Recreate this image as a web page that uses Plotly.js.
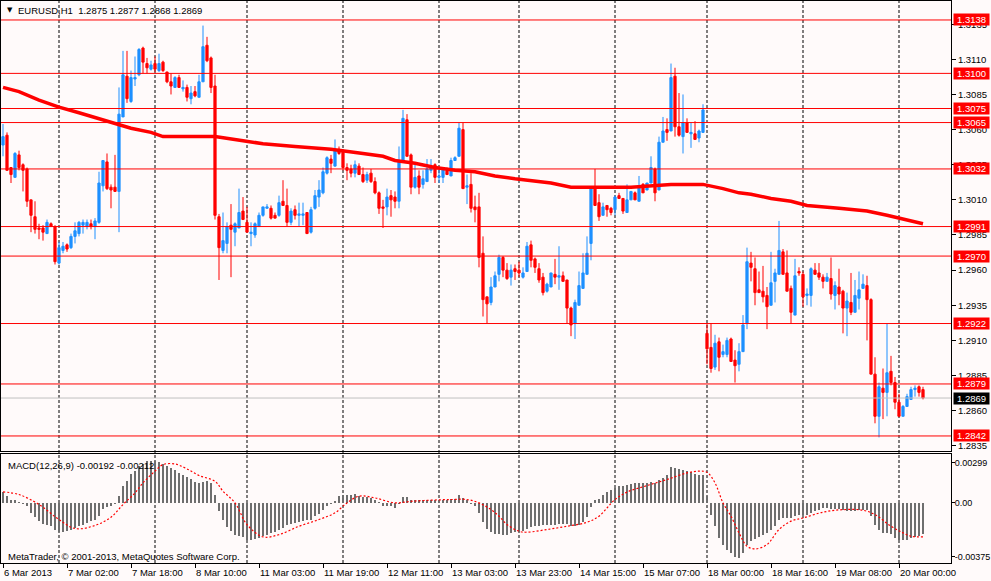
<!DOCTYPE html>
<html><head><meta charset="utf-8">
<script src="https://cdn.plot.ly/plotly-3.0.1.min.js"></script>
<style>html,body{margin:0;padding:0;background:#FFFAFA;}#chart{width:991px;height:581px;}</style>
</head><body><div id="chart"></div>
<script>
// ---- DATA (EURUSD H1, bars indexed 0..230) ----
const openP = [1.3049,1.3056,1.3033,1.3026,1.3042,1.3035,1.3032,1.3010,1.2998,1.2990,
1.2990,1.2986,1.2993,1.2991,1.2965,1.2974,1.2978,1.2976,1.2984,1.2986,
1.2992,1.2991,1.2993,1.2991,1.2994,1.3020,1.3037,1.3019,1.3019,1.3016,
1.3069,1.3098,1.3080,1.3096,1.3099,1.3118,1.3107,1.3103,1.3107,1.3102,
1.3108,1.3101,1.3094,1.3090,1.3097,1.3089,1.3090,1.3082,1.3087,1.3083,
1.3094,1.3120,1.3111,1.3091,1.2998,1.2974,1.2979,1.2992,1.2987,1.2990,
1.3002,1.2994,1.2986,1.2985,1.2991,1.2999,1.3004,1.3004,1.2999,1.2999,
1.3009,1.3006,1.2994,1.3003,1.2999,1.2999,1.3001,1.2987,1.3004,1.3012,
1.3015,1.3029,1.3039,1.3034,1.3046,1.3045,1.3033,1.3032,1.3029,1.3034,
1.3028,1.3024,1.3029,1.3023,1.3015,1.3005,1.3005,1.3013,1.3012,1.3009,
1.3037,1.3067,1.3042,1.3019,1.3027,1.3021,1.3023,1.3031,1.3035,1.3026,
1.3026,1.3031,1.3027,1.3038,1.3041,1.3060,1.3019,1.3021,1.3005,1.3005,
1.2972,1.2941,1.2937,1.2948,1.2957,1.2969,1.2960,1.2955,1.2961,1.2960,
1.2955,1.2959,1.2978,1.2968,1.2961,1.2955,1.2945,1.2948,1.2957,1.2955,
1.2956,1.2953,1.2933,1.2922,1.2935,1.2947,1.2957,1.2979,1.3019,1.3008,
1.2999,1.3006,1.3004,1.3003,1.3013,1.3011,1.3001,1.3010,1.3015,1.3009,
1.3021,1.3017,1.3022,1.3032,1.3017,1.3051,1.3060,1.3059,1.3098,1.3062,
1.3055,1.3065,1.3057,1.3057,1.3054,1.3058,1.2915,1.2905,1.2891,1.2909,
1.2900,1.2900,1.2911,1.2896,1.2893,1.2902,1.2922,1.2965,1.2961,1.2946,
1.2945,1.2942,1.2935,1.2952,1.2957,1.2973,1.2958,1.2947,1.2928,1.2959,
1.2957,1.2942,1.2942,1.2960,1.2958,1.2955,1.2952,1.2954,1.2942,1.2948,
1.2945,1.2933,1.2937,1.2930,1.2940,1.2947,1.2949,1.2939,1.2886,1.2856,
1.2876,1.2873,1.2888,1.2880,1.2866,1.2856,1.2863,1.2868,1.2875,1.2877,
1.2875];
const highP = [1.3064,1.3058,1.3033,1.3044,1.3045,1.3036,1.3033,1.3010,1.3009,1.2993,
1.2992,1.2996,1.2994,1.2992,1.2980,1.2980,1.2979,1.2986,1.2994,1.2995,
1.2996,1.2996,1.2996,1.2997,1.3030,1.3038,1.3043,1.3021,1.3042,1.3090,
1.3116,1.3116,1.3102,1.3112,1.3118,1.3119,1.3111,1.3109,1.3112,1.3114,
1.3109,1.3101,1.3100,1.3098,1.3099,1.3095,1.3092,1.3091,1.3091,1.3099,
1.3134,1.3126,1.3112,1.3099,1.3000,1.3001,1.2994,1.3007,1.2994,1.3018,
1.3012,1.3005,1.2994,1.2994,1.3001,1.3005,1.3007,1.3006,1.3001,1.3013,
1.3024,1.3018,1.3004,1.3006,1.3008,1.3008,1.3001,1.3005,1.3017,1.3024,
1.3033,1.3041,1.3042,1.3053,1.3048,1.3046,1.3036,1.3035,1.3038,1.3036,
1.3033,1.3030,1.3032,1.3026,1.3016,1.3010,1.3018,1.3017,1.3016,1.3048,
1.3074,1.3071,1.3043,1.3035,1.3031,1.3031,1.3039,1.3039,1.3036,1.3033,
1.3033,1.3033,1.3040,1.3041,1.3065,1.3065,1.3028,1.3029,1.3013,1.3015,
1.2984,1.2941,1.2955,1.2959,1.2971,1.2970,1.2965,1.2964,1.2964,1.2966,
1.2962,1.2980,1.2981,1.2969,1.2965,1.2958,1.2951,1.2958,1.2968,1.2977,
1.2959,1.2953,1.2934,1.2939,1.2959,1.2972,1.2984,1.3019,1.3032,1.3014,
1.3008,1.3006,1.3005,1.3013,1.3015,1.3011,1.3021,1.3016,1.3016,1.3027,
1.3022,1.3022,1.3041,1.3033,1.3055,1.3069,1.3068,1.3107,1.3104,1.3086,
1.3085,1.3068,1.3065,1.3066,1.3060,1.3078,1.2922,1.2922,1.2914,1.2912,
1.2907,1.2912,1.2912,1.2903,1.2908,1.2928,1.2976,1.2973,1.2969,1.2959,
1.2963,1.2948,1.2973,1.2961,1.2995,1.2975,1.2974,1.2949,1.2968,1.2962,
1.2959,1.2947,1.2962,1.2965,1.2965,1.2957,1.2958,1.2969,1.2952,1.2961,
1.2946,1.2944,1.2958,1.2953,1.2959,1.2957,1.2956,1.2940,1.2898,1.2880,
1.2890,1.2922,1.2899,1.2884,1.2872,1.2864,1.2872,1.2877,1.2878,1.2878,
1.2877];
const lowP = [1.3041,1.3031,1.3022,1.3026,1.3031,1.3016,1.3005,1.2987,1.2986,1.2982,
1.2981,1.2986,1.2991,1.2964,1.2964,1.2972,1.2973,1.2975,1.2979,1.2984,
1.2986,1.2989,1.2989,1.2982,1.2993,1.3016,1.3017,1.3004,1.3016,1.2987,
1.3069,1.3079,1.3079,1.3091,1.3098,1.3100,1.3100,1.3102,1.3101,1.3101,
1.3101,1.3093,1.3085,1.3090,1.3090,1.3087,1.3080,1.3078,1.3083,1.3083,
1.3094,1.3108,1.3086,1.2996,1.2953,1.2972,1.2972,1.2955,1.2977,1.2990,
1.2996,1.2987,1.2977,1.2983,1.2991,1.2998,1.3004,1.2996,1.2997,1.2998,
1.3006,1.2991,1.2992,1.2996,1.2991,1.2992,1.2986,1.2986,1.3003,1.3005,
1.3014,1.3028,1.3029,1.3034,1.3042,1.3031,1.3024,1.3026,1.3026,1.3028,
1.3022,1.3022,1.3022,1.3014,1.3000,1.2990,1.2999,1.2998,1.3004,1.3004,
1.3037,1.3041,1.3014,1.3018,1.3014,1.3018,1.3023,1.3029,1.3022,1.3022,
1.3022,1.3028,1.3027,1.3038,1.3041,1.3018,1.3007,1.3001,1.2994,1.2962,
1.2927,1.2922,1.2935,1.2948,1.2952,1.2955,1.2953,1.2949,1.2953,1.2955,
1.2954,1.2959,1.2962,1.2958,1.2951,1.2942,1.2944,1.2948,1.2950,1.2946,
1.2952,1.2922,1.2913,1.2911,1.2935,1.2947,1.2957,1.2967,1.3006,1.2995,
1.2999,1.2998,1.2999,1.2999,1.3011,1.3000,1.3001,1.3010,1.3010,1.3009,
1.3015,1.3017,1.3022,1.3009,1.3017,1.3051,1.3052,1.3059,1.3055,1.3055,
1.3043,1.3058,1.3047,1.3053,1.3051,1.3058,1.2893,1.2887,1.2889,1.2888,
1.2898,1.2898,1.2895,1.2880,1.2888,1.2902,1.2918,1.2952,1.2935,1.2944,
1.2937,1.2918,1.2935,1.2937,1.2957,1.2957,1.2945,1.2922,1.2928,1.2956,
1.2934,1.2935,1.2934,1.2957,1.2953,1.2947,1.2952,1.2939,1.2932,1.2935,
1.2915,1.2913,1.2928,1.2930,1.2932,1.2947,1.2910,1.2886,1.2851,1.2841,
1.2854,1.2856,1.2878,1.2861,1.2856,1.2856,1.2863,1.2868,1.2870,1.2870,
1.2868];
const closeP = [1.3055,1.3031,1.3028,1.3043,1.3033,1.3031,1.3009,1.2999,1.2989,1.2989,
1.2987,1.2994,1.2991,1.2966,1.2976,1.2977,1.2975,1.2984,1.2988,1.2994,
1.2994,1.2994,1.2991,1.2995,1.3022,1.3038,1.3018,1.3017,1.3016,1.3071,
1.3099,1.3082,1.3097,1.3097,1.3117,1.3108,1.3104,1.3106,1.3103,1.3107,
1.3102,1.3094,1.3091,1.3097,1.3090,1.3090,1.3083,1.3086,1.3084,1.3094,
1.3119,1.3109,1.3090,1.2999,1.2976,1.2981,1.2991,1.2989,1.2993,1.3001,
1.2996,1.2987,1.2987,1.2993,1.2999,1.3005,1.3005,1.2997,1.2997,1.3008,
1.3006,1.2994,1.3002,1.2999,1.3000,1.3000,1.2986,1.3003,1.3013,1.3017,
1.3030,1.3040,1.3036,1.3045,1.3043,1.3033,1.3031,1.3029,1.3035,1.3028,
1.3023,1.3028,1.3023,1.3015,1.3004,1.3004,1.3012,1.3010,1.3009,1.3038,
1.3068,1.3041,1.3019,1.3026,1.3019,1.3025,1.3032,1.3033,1.3026,1.3027,
1.3032,1.3028,1.3038,1.3040,1.3061,1.3018,1.3020,1.3004,1.3003,1.2969,
1.2939,1.2936,1.2948,1.2956,1.2969,1.2960,1.2954,1.2960,1.2959,1.2958,
1.2958,1.2977,1.2967,1.2962,1.2953,1.2944,1.2950,1.2958,1.2955,1.2956,
1.2952,1.2933,1.2921,1.2937,1.2949,1.2958,1.2972,1.3018,1.3006,1.2998,
1.3005,1.3003,1.3001,1.3012,1.3011,1.3002,1.3010,1.3016,1.3010,1.3020,
1.3015,1.3022,1.3033,1.3015,1.3051,1.3059,1.3058,1.3097,1.3062,1.3056,
1.3065,1.3058,1.3058,1.3053,1.3059,1.3074,1.2904,1.2890,1.2908,1.2898,
1.2902,1.2910,1.2895,1.2892,1.2902,1.2921,1.2966,1.2962,1.2944,1.2944,
1.2941,1.2934,1.2951,1.2958,1.2974,1.2957,1.2945,1.2930,1.2956,1.2958,
1.2941,1.2943,1.2961,1.2957,1.2955,1.2952,1.2955,1.2943,1.2949,1.2943,
1.2933,1.2938,1.2930,1.2942,1.2946,1.2950,1.2939,1.2886,1.2856,1.2877,
1.2873,1.2887,1.2880,1.2866,1.2856,1.2863,1.2870,1.2875,1.2876,1.2873,
1.2869];

// Moving average (thick red line), read at sample bars
const maIdx = [0,4,9,14,19,24,29,32,37,40,49,53,60,65,73,82,90,95,98,103,108,113,118,123,128,133,137,142,149,157,167,175,180,184,187,192,197,201,209,216,221,226,230];
const maVal = [1.3090,1.3087,1.3081,1.3076,1.3072,1.3068,1.3064,1.3061,1.3058,1.3055,1.3055,1.3055,1.3052,1.3050,1.3048,1.3046,1.3043,1.3041,1.3038,1.3036,1.3033,1.3031,1.3030,1.3027,1.3025,1.3023,1.3022,1.3019,1.3019,1.3019,1.3021,1.3021,1.3018,1.3015,1.3014,1.3011,1.3009,1.3006,1.3004,1.3002,1.2999,1.2996,1.2993];

// MACD(12,26,9) histogram per bar
const macdHist = [0.00069,0.00042,0.00021,0.00021,0.00008,-0.00004,-0.00021,-0.00062,-0.00089,-0.0011,
-0.00131,-0.00137,-0.00146,-0.00166,-0.00179,-0.00179,-0.00177,-0.00166,-0.00156,-0.00146,
-0.00135,-0.00125,-0.00116,-0.00104,-0.00079,-0.00037,-0.00025,-0.00017,-0.00004,0.00046,
0.00104,0.00139,0.00181,0.00198,0.00229,0.00245,0.0026,0.00264,0.0026,0.00254,
0.00245,0.00233,0.00218,0.00204,0.00187,0.00173,0.00162,0.00146,0.00131,0.00125,
0.00129,0.00135,0.00125,0.00048,-0.00052,-0.00104,-0.00152,-0.00177,-0.00202,-0.00208,
-0.00214,-0.00229,-0.00233,-0.00225,-0.00218,-0.00204,-0.00198,-0.00187,-0.00179,-0.00166,
-0.00154,-0.00141,-0.00131,-0.00125,-0.00121,-0.00114,-0.00108,-0.00104,-0.00083,-0.00069,
-0.00042,-0.00021,-0.0001,0.0001,0.00042,0.00048,0.00048,0.00048,0.00054,0.00046,
0.00035,0.00035,0.00031,0.00021,0.00004,-0.00017,-0.00017,-0.00021,-0.00031,-0.00008,
0.00035,0.00037,0.00021,0.00021,0.00015,0.00015,0.00015,0.00021,0.00021,0.00021,
0.00021,0.00021,0.00025,0.00027,0.00052,0.00031,0.00017,-0.00004,-0.00017,-0.00062,
-0.00119,-0.00162,-0.00183,-0.00193,-0.00193,-0.00198,-0.00198,-0.00187,-0.00181,-0.00183,
-0.00177,-0.0016,-0.0015,-0.00146,-0.00146,-0.00141,-0.00141,-0.00141,-0.00135,-0.00129,
-0.00129,-0.00129,-0.00146,-0.00146,-0.00135,-0.00121,-0.00087,-0.00025,0.00015,0.00027,
0.00052,0.00069,0.00079,0.00094,0.00104,0.00108,0.00114,0.00119,0.00121,0.00121,
0.00121,0.00125,0.00131,0.00125,0.00141,0.00156,0.00177,0.00223,0.00218,0.00212,
0.00208,0.00202,0.00193,0.00183,0.00177,0.00177,0.00046,-0.00073,-0.00146,-0.00218,
-0.0026,-0.00291,-0.00312,-0.00339,-0.00343,-0.00312,-0.0026,-0.00239,-0.00225,-0.00212,
-0.00198,-0.00187,-0.00166,-0.00146,-0.00104,-0.00094,-0.00094,-0.00094,-0.00083,-0.00073,
-0.00073,-0.00073,-0.00062,-0.00052,-0.00042,-0.00031,-0.00031,-0.00037,-0.00037,-0.00037,
-0.00042,-0.00048,-0.00052,-0.00052,-0.00046,-0.00042,-0.00046,-0.00083,-0.00135,-0.00166,
-0.00187,-0.00187,-0.00191,-0.00218,-0.00229,-0.00233,-0.00229,-0.00218,-0.00212,-0.00204,
-0.00192];

// MACD signal line, read at sample bars
const sigIdx = [0,4,9,14,18,23,27,30,33,35,38,40,43,46,49,53,55,58,61,65,69,74,79,83,86,89,93,98,102,107,112,116,119,122,124,126,129,131,136,141,146,149,153,156,161,166,171,174,176,178,180,182,184,186,188,191,194,197,200,205,210,215,218,222,225,227,230];
const sigVal = [0.00069,0.00052,-0.0001,-0.00104,-0.0016,-0.00141,-0.00089,-0.0001,0.00062,0.00125,0.00198,0.00239,0.00243,0.00212,0.00171,0.00135,0.00073,0,-0.00135,-0.00212,-0.00198,-0.00146,-0.00104,-0.00062,0,0.00042,0.00031,0,0.0001,0.00017,0.00021,0.00021,0,-0.00042,-0.00083,-0.00135,-0.00177,-0.00183,-0.00166,-0.00146,-0.00121,-0.00083,0.00021,0.00067,0.00108,0.00146,0.00187,0.00198,0.00191,0.00125,0,-0.00083,-0.00187,-0.0027,-0.00287,-0.0026,-0.00166,-0.00114,-0.00094,-0.00058,-0.00042,-0.00046,-0.00073,-0.00146,-0.00187,-0.00208,-0.00212];

// horizontal price levels and current price
const levels = [1.3138,1.3100,1.3075,1.3065,1.3032,1.2991,1.2970,1.2922,1.2879,1.2842];
const currentPrice = 1.2869;

// axes
const yTicks = [1.3135,1.3110,1.3085,1.3060,1.3035,1.3010,1.2985,1.2960,1.2935,1.2910,1.2885,1.2860,1.2835];
const macdTickVals = [0.00251,0,-0.00336];
const macdTickText = ['0.00299','0.00','-0.00375'];
const tickIdx = [0,16,32,48,64,80,96,112,128,144,160,176,192,208,224];
const tickLabels = ['6 Mar 2013','7 Mar 02:00','7 Mar 18:00','8 Mar 10:00','11 Mar 03:00','11 Mar 19:00','12 Mar 11:00','13 Mar 03:00','13 Mar 23:00','14 Mar 15:00','15 Mar 07:00','18 Mar 00:00','18 Mar 16:00','19 Mar 08:00','20 Mar 00:00'];
const daySeparators = [14,38,61,85,109,129,153,176,200,224];

// ---- CHART ----
const W = 991, H = 581;
const px = v => v / W, py = v => 1 - v / H;
const FONT = 'Liberation Sans, Arial, sans-serif';
const idx = openP.map((_, i) => i);

const traces = [
  {type:'candlestick', x: idx, open: openP, high: highP, low: lowP, close: closeP,
   xaxis:'x2', yaxis:'y', whiskerwidth:0, hoverinfo:'skip', showlegend:false,
   increasing:{line:{color:'#1E90FF', width:1}, fillcolor:'#1E90FF'},
   decreasing:{line:{color:'#FF0000', width:1}, fillcolor:'#FF0000'}},
  {type:'scatter', mode:'lines', x: maIdx, y: maVal, xaxis:'x2', yaxis:'y',
   line:{color:'#FF0000', width:3.5}, hoverinfo:'skip', showlegend:false},
  {type:'bar', x: idx, y: macdHist, xaxis:'x', yaxis:'y2', width:0.7,
   marker:{color:'#6E6E6E', line:{width:0}}, hoverinfo:'skip', showlegend:false},
  {type:'scatter', mode:'lines', x: sigIdx, y: sigVal, xaxis:'x', yaxis:'y2',
   line:{color:'#FF0000', width:1.2, dash:'2px,2px', shape:'spline'}, hoverinfo:'skip', showlegend:false}
];

const shapes = [];
daySeparators.forEach(d => shapes.push({type:'line', xref:'x2', x0:d, x1:d, yref:'paper', y0:py(563), y1:py(1),
  line:{color:'#000', width:1, dash:'3px,2px'}, layer:'below'}));
shapes.push({type:'line', xref:'x2 domain', x0:0, x1:1, yref:'y', y0:currentPrice, y1:currentPrice,
  line:{color:'#C0C0C0', width:1}});
levels.forEach(l => shapes.push({type:'line', xref:'x2 domain', x0:0, x1:1, yref:'y', y0:l, y1:l,
  line:{color:'#FF0000', width:1}}));

const annotations = [];
levels.forEach(l => annotations.push({xref:'paper', x:px(953), xanchor:'left', yref:'y', y:l, yanchor:'middle',
  text:l.toFixed(4), showarrow:false, bgcolor:'#FF0000', borderpad:0, width:35, height:11, align:'center',
  font:{family:FONT, size:9.5, color:'#FFFFFF'}}));
annotations.push({xref:'paper', x:px(953), xanchor:'left', yref:'y', y:currentPrice, yanchor:'middle',
  text:currentPrice.toFixed(4), showarrow:false, bgcolor:'#000000', borderpad:0, width:35, height:11, align:'center',
  font:{family:FONT, size:9.5, color:'#FFFFFF'}});
// time labels, left-aligned at their tick
tickIdx.forEach((t, k) => annotations.push({xref:'x', x:t, xanchor:'left', yref:'paper', y:py(572.5), yanchor:'middle',
  text:tickLabels[k], showarrow:false, xshift:-1, font:{family:FONT, size:9.5, color:'#000'}}));
annotations.push({xref:'paper', yref:'paper', x:px(5), y:py(10), xanchor:'left', yanchor:'middle', showarrow:false,
  text:'\u25BC', font:{family:'DejaVu Sans', size:7, color:'#000'}});
annotations.push({xref:'paper', yref:'paper', x:px(16), y:py(10.5), xanchor:'left', yanchor:'middle', showarrow:false,
  text:'EURUSD,H1\u00a0\u00a0' + [openP[230], highP[230], lowP[230], closeP[230]].map(v => v.toFixed(4)).join(' '),
  font:{family:FONT, size:9.5, color:'#000'}});
annotations.push({xref:'paper', yref:'paper', x:px(6), y:py(465), xanchor:'left', yanchor:'middle', showarrow:false,
  text:'MACD(12,26,9) ' + macdHist[230].toFixed(5) + ' ' + sigVal[sigVal.length-1].toFixed(5),
  font:{family:FONT, size:9.5, color:'#000'}});
annotations.push({xref:'paper', yref:'paper', x:px(6), y:py(556.5), xanchor:'left', yanchor:'middle', showarrow:false,
  text:'MetaTrader, \u00a9 2001-2013, MetaQuotes Software Corp.',
  font:{family:FONT, size:9.5, color:'#000'}});

const xDom = [px(1), px(951)];
const layout = {
  width:W, height:H, margin:{l:0, r:0, t:0, b:0}, autosize:false,
  paper_bgcolor:'#FFFAFA', plot_bgcolor:'#FFFAFA', showlegend:false,
  boxgap:0.45, boxgroupgap:0, bargap:0,
  font:{family:FONT, size:9.5, color:'#000'},
  xaxis:{domain:xDom, anchor:'y2', range:[-0.5, 237], showline:true, mirror:true, linecolor:'#000', linewidth:1,
    showgrid:false, zeroline:false, tickmode:'array', tickvals:tickIdx, showticklabels:false,
    ticks:'outside', ticklen:4, tickcolor:'#000', rangeslider:{visible:false}, fixedrange:true},
  xaxis2:{domain:xDom, anchor:'y', matches:'x', showline:true, mirror:true, linecolor:'#000', linewidth:1,
    showgrid:false, zeroline:false, showticklabels:false, ticks:'', rangeslider:{visible:false}},
  yaxis:{domain:[py(451), py(1)], anchor:'x2', side:'right', range:[1.28313, 1.31515],
    showline:true, mirror:true, linecolor:'#000', linewidth:1, showgrid:false, zeroline:false,
    tickmode:'array', tickvals:yTicks, ticktext:yTicks.map(v => v.toFixed(4)),
    ticks:'outside', ticklen:4, tickcolor:'#000', tickfont:{family:FONT, size:9.5, color:'#000'}},
  yaxis2:{domain:[py(563), py(454)], anchor:'x', side:'right', range:[-0.00375, 0.00305],
    showline:true, mirror:true, linecolor:'#000', linewidth:1, showgrid:false, zeroline:false,
    tickmode:'array', tickvals:macdTickVals, ticktext:macdTickText,
    ticks:'outside', ticklen:3, tickcolor:'#000', ticklabelstandoff:-2,
    tickfont:{family:FONT, size:9, color:'#000'}},
  shapes:shapes, annotations:annotations
};

Plotly.newPlot('chart', traces, layout, {staticPlot:true, displayModeBar:false});
</script></body></html>
